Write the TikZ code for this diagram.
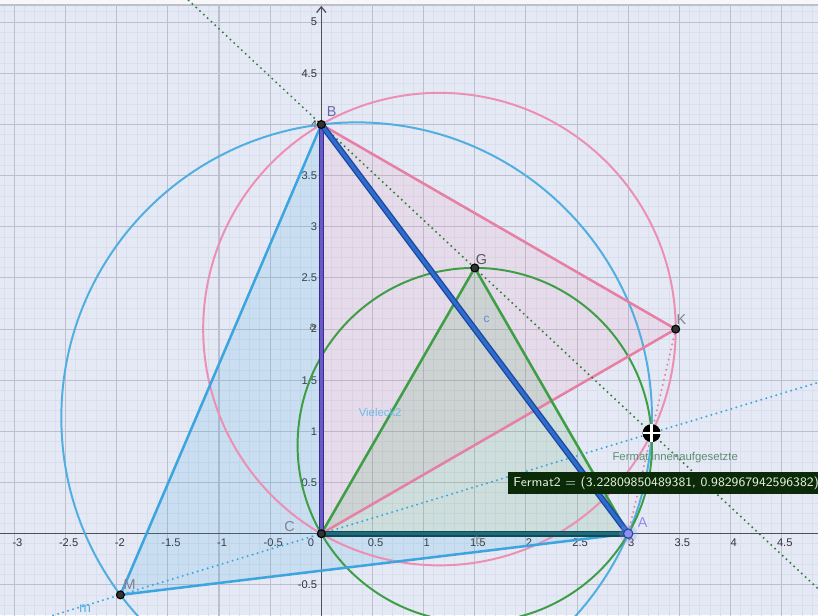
\documentclass[tikz,border=0pt]{standalone}
\usepackage{fontspec}
\setmainfont{Liberation Sans}
\usetikzlibrary{calc,arrows.meta}
\definecolor{bg}{HTML}{E5E9F5}
\definecolor{minorc}{HTML}{DADFEC}
\definecolor{majorc}{HTML}{BCC0CE}
\definecolor{axisc}{HTML}{505058}
\definecolor{numc}{HTML}{333338}
\definecolor{pinkc}{HTML}{E77FA4}
\definecolor{pinkcirc}{HTML}{EC8FB2}
\definecolor{bluec}{HTML}{3DA5DE}
\definecolor{greenc}{HTML}{3E9E45}
\definecolor{about}{HTML}{1C4A9E}
\definecolor{abin}{HTML}{2E6CD0}
\definecolor{bcout}{HTML}{3A2C8C}
\definecolor{bcin}{HTML}{6A5AC8}
\definecolor{caout}{HTML}{0F4A58}
\definecolor{cain}{HTML}{1F6B78}
\definecolor{boxc}{HTML}{0A2A08}
\definecolor{boxtext}{HTML}{E2F0DA}
\definecolor{lblgrey}{HTML}{808090}
\definecolor{lavender}{HTML}{8E8EF0}
\definecolor{fermc}{HTML}{5A8F72}
\tikzset{
  minorgrid/.style={draw=minorc,line width=0.28pt},
  majorgrid/.style={draw=majorc,line width=0.3pt},
  axisline/.style={draw=axisc,line width=0.35pt},
  num/.style={font=\fontsize{3.1}{3.5}\selectfont,text=numc,inner sep=0pt},
  ptlabel/.style={font=\fontsize{4.0}{4.6}\selectfont,text=lblgrey,inner sep=0pt},
  circ/.style={line width=0.55pt},
  edge/.style={line width=0.7pt},
  dotline/.style={line width=0.62pt,dash pattern=on 0pt off 1.45pt,line cap=round},
  ptdot/.style={circle,fill=black!80,draw=black,line width=0.3pt,inner sep=0pt,minimum size=2.2pt},
}
\begin{document}
\begin{tikzpicture}[x=1cm,y=1cm]
\useasboundingbox (-3.141,-0.795) rectangle (4.855,5.217);
\clip (-3.141,-0.795) rectangle (4.855,5.217);
\fill[bg] (-3.141,-0.795) rectangle (4.855,5.217);
% grid
\draw[minorgrid] (-3.2,-0.8) grid[step=0.1] (4.9,5.3);
\draw[majorgrid] (-3.5,-1) grid[step=0.5] (5,5.5);
% top strip
\fill[white!94!gray] (-3.2,5.17) rectangle (4.9,5.3);
\draw[majorc,line width=0.4pt] (-3.2,5.17) -- (4.9,5.17);
% points
\coordinate (A) at (3,0);
\coordinate (B) at (0,4);
\coordinate (C) at (0,0);
\coordinate (G) at (1.5,2.598076);
\coordinate (K) at (3.464102,2);
\coordinate (M) at (-1.964102,-0.598076);
\coordinate (F) at (3.228099,0.982968);
\coordinate (Opink) at (1.154701,2);
\coordinate (Oblue) at (0.345299,1.133975);
\coordinate (Ogreen) at (1.5,0.866025);
% axes
\draw[axisline] (-3.2,0) -- (4.9,0);
\draw[axisline,-{Straight Barb[length=1.6pt,width=2.6pt]}] (0,-0.9) -- (0,5.16);
% axis numbers
\foreach \x in {-3,-2.5,-2,-1.5,-1,-0.5,0.5,1,1.5,2,2.5,3,3.5,4,4.5}
  \node[num] (xl\x) at (\x+0.03,-0.085) {\x};
\node[num] (xl0) at (-0.1,-0.085) {0};
\foreach \y in {-0.5,0.5,1,1.5,2,2.5,3,3.5,4,4.5,5}
  \node[num,anchor=east] (yl\y) at (-0.035,\y) {\y};
% polygon fills
\fill[bluec,opacity=0.16] (M) -- (A) -- (C) -- (B) -- cycle;
\fill[pinkc,opacity=0.13] (B) -- (K) -- (C) -- cycle;
\fill[greenc,opacity=0.14] (C) -- (A) -- (G) -- cycle;
% circles
\draw[circ,pinkcirc] (Opink) circle (2.309401);
\draw[circ,bluec!90!white] (Oblue) circle (2.886751);
\draw[circ,greenc] (Ogreen) circle (1.732051);
% polygon edges
\draw[edge,bluec] (A) -- (M) -- (B);
\draw[edge,pinkc] (B) -- (K) -- (C);
\draw[edge,greenc] (C) -- (G) -- (A);
% dotted lines
\draw[dotline,greenc!80!black] ($(B)!-3!(G)$) -- ($(B)!5!(G)$);
\draw[dotline,bluec] ($(M)!-1!(F)$) -- ($(M)!3!(F)$);
\draw[dotline,pinkc] (K) -- (A);
% thick triangle ABC
\draw[line width=1.6pt,caout] (C) -- (A);
\draw[line width=0.7pt,cain] (C) -- (A);
\draw[line width=1.5pt,bcout] (B) -- (C);
\draw[line width=0.8pt,bcin] (B) -- (C);
\draw[line width=1.7pt,about] (A) -- (B);
\draw[line width=0.9pt,abin] (A) -- (B);
% point markers
\node[ptdot] (pB) at (B) {};
\node[ptdot] (pC) at (C) {};
\node[ptdot] (pG) at (G) {};
\node[ptdot] (pK) at (K) {};
\node[ptdot] (pM) at (M) {};
\fill[lavender,opacity=0.25] (A) circle (0.09);
\node[circle,fill=lavender,draw=about,line width=0.3pt,inner sep=0pt,minimum size=2.6pt] (pA) at (A) {};
% Fermat point icon
\fill[black] (F) circle (0.088);
\draw[white,line width=0.75pt] ($(F)+(-0.088,0)$) -- ($(F)+(0.088,0)$);
\draw[white,line width=0.75pt] ($(F)+(0,-0.088)$) -- ($(F)+(0,0.088)$);
\coordinate (pF) at (F);
% labels
\node[ptlabel,text=lblgrey!80!blue] (lB) at (0.1,4.13) {B};
\node[ptlabel,text=black!65] (lG) at (1.565,2.68) {G};
\node[ptlabel] (lK) at (3.52,2.09) {K};
\node[ptlabel] (lC) at (-0.31,0.07) {C};
\node[ptlabel,text=lavender] (lA) at (3.14,0.11) {A};
\node[ptlabel] (lM) at (-1.875,-0.5) {M};
\node[ptlabel,text=bluec!85!white] (lm) at (-2.31,-0.73) {m};
\node[ptlabel,font=\fontsize{3.3}{4}\selectfont,text=black!60] (la) at (-0.085,2.02) {a};
\node[ptlabel,font=\fontsize{3.3}{4}\selectfont,text=black!50] (lb) at (1.54,-0.065) {b};
\node[ptlabel,font=\fontsize{3.3}{4}\selectfont,text=abin!80!white] (lc) at (1.615,2.10) {c};
\node[ptlabel,anchor=west,font=\fontsize{3.15}{4}\selectfont,text=bluec!75!white] (lV) at (0.36,1.183) {Vieleck2};
\node[ptlabel,anchor=west,font=\fontsize{3.15}{4}\selectfont,text=fermc] (lF) at (2.84,0.745) {Fermat innenaufgesetzte};
% value box
\node[anchor=south west,fill=boxc,text=boxtext,inner xsep=1.5pt,inner ysep=1.1pt,minimum height=0.215cm,font=\sffamily\fontsize{3.58}{4.2}\selectfont] (box) at (1.818,0.381) {Fermat2 = (3.22809850489381, 0.982967942596382)};
\end{tikzpicture}
\end{document}
